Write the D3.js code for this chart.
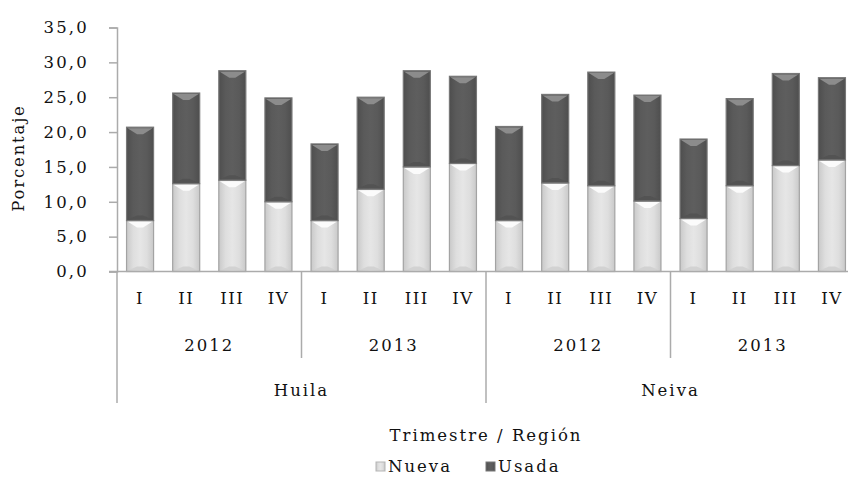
<!DOCTYPE html>
<html><head><meta charset="utf-8">
<script src="https://cdn.jsdelivr.net/npm/d3@7"></script>
<style>body{margin:0;background:#fff}svg{display:block}text{font-family:"DejaVu Serif",serif;fill:#111}</style>
</head><body><svg id="c" width="848" height="479"></svg>
<script>
const regions = ["Huila", "Neiva"];
const years = ["2012", "2013"];
const quarters = ["I", "II", "III", "IV"];
const nueva = [7.3, 12.6, 13.1, 10.0, 7.3, 11.8, 15.0, 15.5, 7.3, 12.7, 12.3, 10.1, 7.6, 12.3, 15.2, 16.0];
const usada = [13.4, 13.0, 15.7, 14.9, 11.0, 13.2, 13.8, 12.5, 13.5, 12.7, 16.3, 15.2, 11.4, 12.5, 13.2, 11.8];
const yTicks = [0, 5, 10, 15, 20, 25, 30, 35];
const seriesNames = ["Nueva", "Usada"];

const svg = d3.select("#c");
const left = 117, right = 855, y0 = 271.5, yTop = 27.5;
const idx = d3.range(nueva.length);
const x = d3.scaleBand().domain(idx).range([left, right]).paddingInner(0.414).paddingOuter(0.207);
const y = d3.scaleLinear().domain([0, 35]).range([y0, yTop]);
const step = x.step();
const FS = 16.5;

const defs = svg.append("defs");
function grad(id, stops) {
  const g = defs.append("linearGradient").attr("id", id).attr("x1", 0).attr("x2", 1).attr("y1", 0).attr("y2", 0);
  stops.forEach(s => g.append("stop").attr("offset", s[0]).attr("stop-color", s[1]));
}
grad("gN", [[0, "#c9c9c9"], [0.25, "#dedede"], [0.5, "#e6e6e6"], [0.75, "#dedede"], [1, "#c9c9c9"]]);
grad("gU", [[0, "#4e4e4e"], [0.25, "#5a5a5a"], [0.5, "#5e5e5e"], [0.75, "#5a5a5a"], [1, "#4e4e4e"]]);

// bars
const stack = idx.map(i => ({ i, segs: [{ s: 0, b: 0, t: nueva[i] }, { s: 1, b: nueva[i], t: nueva[i] + usada[i] }] }));
const bw = x.bandwidth();
stack.forEach(d => {
  d.segs.forEach(sg => {
    const gx = x(d.i), gyT = y(sg.t), gyB = y(sg.b);
    svg.append("rect").attr("x", gx).attr("y", gyT).attr("width", bw).attr("height", gyB - gyT)
      .attr("fill", sg.s === 0 ? "url(#gN)" : "url(#gU)")
      .attr("stroke", sg.s === 0 ? "#a3a3a3" : "#777").attr("stroke-width", 1.2);
    const bev = 7;
    svg.append("path")
      .attr("d", `M${gx + 1},${gyT + 1}L${gx + bw - 1},${gyT + 1}L${gx + bw / 2 + 3},${gyT + bev}L${gx + bw / 2 - 3},${gyT + bev}Z`)
      .attr("fill", sg.s === 0 ? "#fbfbfb" : "#8c8c8c");
    svg.append("path")
      .attr("d", `M${gx + 1},${gyB - 1}L${gx + bw - 1},${gyB - 1}L${gx + bw / 2 + 3},${gyB - 5}L${gx + bw / 2 - 3},${gyB - 5}Z`)
      .attr("fill", sg.s === 0 ? "#d2d2d2" : "#535353");
  });
});

// y axis
const axisCol = "#ababab";
const yAxis = d3.axisLeft(y).tickValues(yTicks).tickSize(8).tickPadding(20)
  .tickFormat(d => d3.format(".1f")(d).replace(".", ","));
const ga = svg.append("g").attr("transform", `translate(${left},0)`).call(yAxis);
ga.select(".domain").attr("stroke", axisCol).attr("stroke-width", 1.5);
ga.selectAll(".tick line").attr("stroke", axisCol).attr("stroke-width", 1.5);
ga.selectAll(".tick text").attr("font-size", FS).attr("letter-spacing", 2.2).style("font-family", "DejaVu Serif").attr("fill", "#111");

svg.append("line").attr("x1", left - 8).attr("x2", 848).attr("y1", y0).attr("y2", y0).attr("stroke", axisCol).attr("stroke-width", 1.5);

// separators
svg.append("line").attr("x1", left).attr("x2", left).attr("y1", y0).attr("y2", 403).attr("stroke", axisCol).attr("stroke-width", 1.5);
[4, 12].forEach(k => svg.append("line").attr("x1", left + k * step).attr("x2", left + k * step)
  .attr("y1", y0).attr("y2", 358).attr("stroke", axisCol).attr("stroke-width", 1.5));
[8].forEach(k => svg.append("line").attr("x1", left + k * step).attr("x2", left + k * step)
  .attr("y1", y0).attr("y2", 403).attr("stroke", axisCol).attr("stroke-width", 1.5));

idx.forEach(i => {
  svg.append("text").attr("x", x(i) + bw / 2).attr("y", 304).attr("text-anchor", "middle")
    .attr("font-size", FS).attr("letter-spacing", 1.5).text(quarters[i % 4]);
});
d3.range(4).forEach(g => {
  svg.append("text").attr("x", left + (g * 4 + 2) * step).attr("y", 351).attr("text-anchor", "middle")
    .attr("font-size", FS).attr("letter-spacing", 2).text(years[g % 2]);
});
regions.forEach((r, k) => {
  svg.append("text").attr("x", left + (k * 8 + 4) * step).attr("y", 396).attr("text-anchor", "middle")
    .attr("font-size", FS).attr("letter-spacing", 2).text(r);
});

svg.append("text").attr("transform", "translate(24,158) rotate(-90)").attr("text-anchor", "middle")
  .attr("font-size", FS).attr("letter-spacing", 1.8).text("Porcentaje");
svg.append("text").attr("x", 486).attr("y", 441).attr("text-anchor", "middle")
  .attr("font-size", FS).attr("letter-spacing", 2).text("Trimestre / Región");

const legX = [376, 486];
seriesNames.forEach((n, k) => {
  svg.append("rect").attr("x", legX[k]).attr("y", 462).attr("width", 9).attr("height", 9)
    .attr("fill", k === 0 ? "url(#gN)" : "url(#gU)").attr("stroke", k === 0 ? "#b5b5b5" : "#777");
  svg.append("text").attr("x", legX[k] + 12).attr("y", 472).attr("font-size", FS).attr("letter-spacing", 2).text(n);
});
</script></body></html>
